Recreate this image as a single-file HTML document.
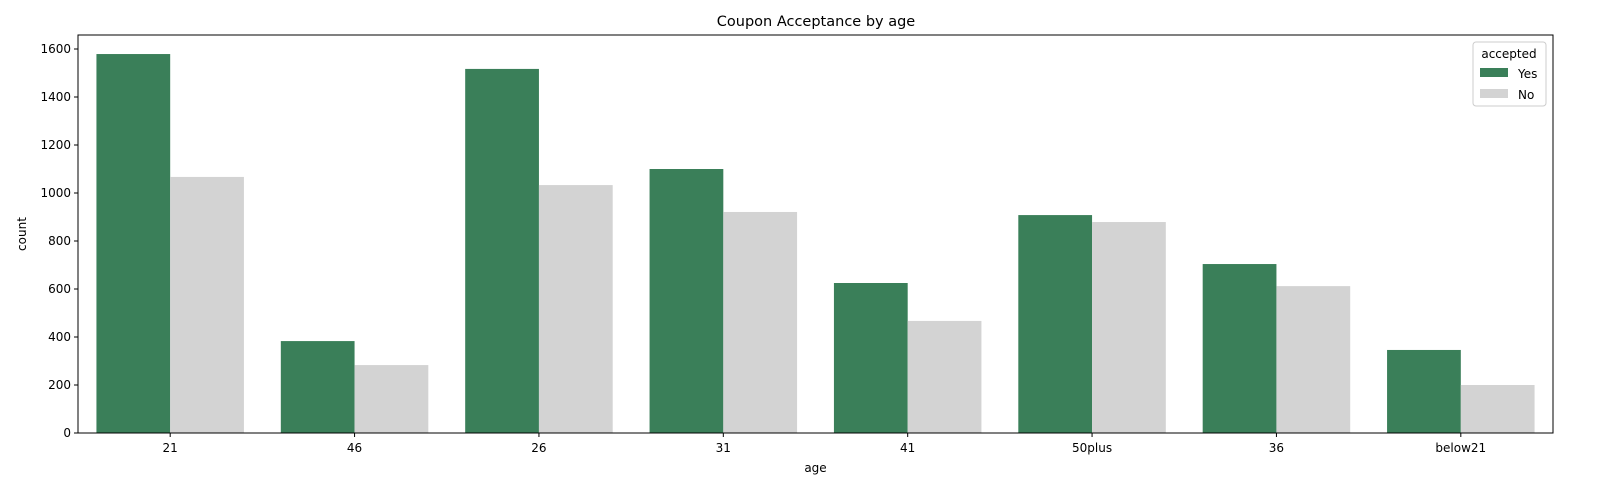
<!DOCTYPE html>
<html><head><meta charset="utf-8"><style>
html,body{margin:0;padding:0;background:#fff;width:1600px;height:500px;overflow:hidden}
svg{display:block}
svg text{font-family:"DejaVu Sans","Liberation Sans",sans-serif;fill:#000}
</style></head><body>
<svg id="chart" width="1600" height="500" xmlns="http://www.w3.org/2000/svg">
<text x="816" y="26" font-size="14.5" text-anchor="middle">Coupon Acceptance by age</text>
<g id="plot"></g>
</svg>
<script>
const categories=["21","46","26","31","41","50plus","36","below21"];
const yesValues=[1579,383,1517,1100,625,908,704,346];
const noValues=[1067,283,1033,921,467,879,612,200];
const yTicks=[0,200,400,600,800,1000,1200,1400,1600];
const L=78,R=1553,T=35,B=433;
const ys=v=>B-v*0.24;
const band=(R-L)/categories.length;
const xc=i=>L+band*(i+0.5);
const g=document.getElementById('plot');
const NS='http://www.w3.org/2000/svg';
function mk(t,a){const e=document.createElementNS(NS,t);for(const k in a)e.setAttribute(k,a[k]);g.appendChild(e);return e;}
const bw=band*0.4;
categories.forEach((c,i)=>{
 let r=mk('rect',{x:xc(i)-bw,y:ys(yesValues[i]),width:bw,height:B-ys(yesValues[i]),fill:'#3a7f59'});
 
 
 r=mk('rect',{x:xc(i),y:ys(noValues[i]),width:bw,height:B-ys(noValues[i]),fill:'#d3d3d3'});
 
 
 mk('line',{x1:xc(i),x2:xc(i),y1:B,y2:B+4,stroke:'#000','stroke-width':1});
 const t=mk('text',{x:xc(i),y:B+19,'font-size':12,'text-anchor':'middle'});t.textContent=c;
 
 
});
yTicks.forEach(v=>{
 mk('line',{x1:L-4,x2:L,y1:ys(v),y2:ys(v),stroke:'#000','stroke-width':1});
 const t=mk('text',{x:L-7,y:ys(v)+4,'font-size':12,'text-anchor':'end'});t.textContent=v;
 
 
});
const fr=mk('rect',{x:L,y:T,width:R-L,height:B-T,fill:'none',stroke:'#000','stroke-width':1});


let t=mk('text',{x:(L+R)/2,y:472,'font-size':12,'text-anchor':'middle'});t.textContent='age';


t=mk('text',{x:26,y:234,'font-size':12,'text-anchor':'middle',transform:'rotate(-90 26 234)'});t.textContent='count';


const lg=mk('rect',{x:1473,y:42,width:73,height:64,rx:3,fill:'#fff',stroke:'#ccc'});


t=mk('text',{x:1509,y:58,'font-size':12,'text-anchor':'middle'});t.textContent='accepted';


mk('rect',{x:1480,y:68,width:28,height:9,fill:'#3a7f59'});
t=mk('text',{x:1518,y:78,'font-size':12});t.textContent='Yes';


mk('rect',{x:1480,y:89,width:28,height:9,fill:'#d3d3d3'});
t=mk('text',{x:1518,y:99,'font-size':12});t.textContent='No';


</script>
</body></html>
